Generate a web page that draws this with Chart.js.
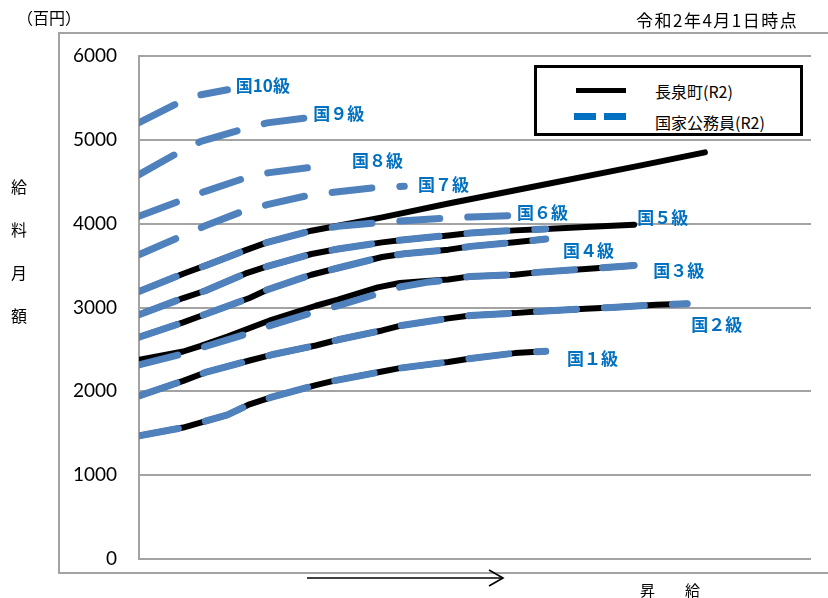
<!DOCTYPE html>
<html lang="ja">
<head>
<meta charset="utf-8">
<title>給料月額 比較</title>
<script src="https://cdn.jsdelivr.net/npm/chart.js@4.4.1/dist/chart.umd.min.js"></script>
<style>
  html, body { margin: 0; padding: 0; background: #fff; overflow: hidden; }
  #wrap { position: relative; width: 828px; height: 598px; overflow: hidden;
          font-family: "Noto Sans CJK JP", "Noto Sans", sans-serif; color: #000; }
  #frame { position: absolute; left: 58px; top: 32px; width: 820px; height: 542px;
           box-sizing: border-box; border: 2px solid #a3a3a3; }
  #chart { position: absolute; left: 0; top: 0; }
  .txt { position: absolute; white-space: nowrap; line-height: 1; }
  #unit { left: 17px; top: 9px; font-size: 16px; }
  #asof { left: 636px; top: 11px; font-size: 17px; letter-spacing: 1.5px; }
  #ytitle { left: 10px; top: 165px; font-size: 16px; line-height: 43px; white-space: normal; width: 18px; text-align: center; }
  #xtitle { left: 640px; top: 582px; font-size: 15px; }
  #arrow { position: absolute; left: 305px; top: 569px; }
  #legend { position: absolute; left: 534px; top: 65px; width: 269px; height: 71px;
            box-sizing: border-box; border: 3px solid #000; background: #fff; }
  .swatch { position: absolute; }
  .ltxt { position: absolute; font-size: 16px; line-height: 1; white-space: nowrap; }
</style>
</head>
<body>
<div id="wrap">
  <div id="frame"></div>
  <canvas id="chart" width="828" height="598"></canvas>
  <div class="txt" id="unit">（百円）</div>
  <div class="txt" id="asof">令和2年4月1日時点</div>
  <div class="txt" id="ytitle">給<br>料<br>月<br>額</div>
  <svg id="arrow" width="204" height="20" viewBox="0 0 204 20">
    <line x1="2" y1="9" x2="198" y2="9" stroke="#000" stroke-width="1.6"/>
    <polyline points="184,1 198,9 184,17" fill="none" stroke="#000" stroke-width="1.6"/>
  </svg>
  <div class="txt" id="xtitle">昇　　給</div>
  <div id="legend">
    <div class="swatch" style="left:39px;top:20px;width:50px;height:5px;background:#000"></div>
    <div class="ltxt" style="left:118px;top:15px">長泉町(R2)</div>
    <div class="swatch" style="left:37px;top:45px;width:22px;height:7px;background:#0070C0"></div>
    <div class="swatch" style="left:67px;top:45px;width:22px;height:7px;background:#0070C0"></div>
    <div class="ltxt" style="left:118px;top:46px">国家公務員(R2)</div>
  </div>
</div>
<script>
// 号給 (step) positions and monthly pay (hundreds of yen) per grade.
// National civil servants (国家公務員, R2)
const natSteps1 = [1, 11, 21, 26, 31, 41, 45, 56, 60, 71, 76, 86, 93];
const natPay1   = [1469, 1568, 1719, 1845, 1930, 2075, 2125, 2236, 2277, 2350, 2392, 2456, 2478];
const natSteps2 = [1, 11, 16, 26, 31, 41, 46, 56, 60, 71, 76, 86, 91, 102, 108, 118, 125];
const natPay2   = [1946, 2125, 2225, 2368, 2436, 2547, 2615, 2726, 2782, 2870, 2905, 2933, 2953, 2985, 3001, 3033, 3045];
const natSteps3 = [1, 11, 16, 26, 30, 41, 46, 56, 60, 66, 71, 76, 86, 91, 102, 113];
const natPay3   = [2316, 2448, 2535, 2695, 2774, 2953, 3021, 3180, 3244, 3300, 3330, 3371, 3391, 3419, 3459, 3502];
const natSteps4 = [1, 11, 16, 26, 30, 40, 46, 56, 61, 71, 76, 86, 93];
const natPay4   = [2647, 2822, 2920, 3113, 3212, 3391, 3471, 3602, 3642, 3690, 3729, 3777, 3817];
const natSteps5 = [1, 11, 16, 25, 30, 40, 46, 56, 61, 71, 76, 86, 93];
const natPay5   = [2913, 3113, 3200, 3403, 3491, 3638, 3698, 3777, 3809, 3860, 3889, 3920, 3937];
const natSteps6 = [1, 11, 16, 25, 30, 40, 46, 56, 61, 71, 76, 85];
const natPay6   = [3192, 3403, 3499, 3681, 3777, 3916, 3968, 4016, 4036, 4068, 4080, 4096];
const natSteps7 = [1, 11, 16, 25, 30, 40, 45, 55, 61];
const natPay7   = [3630, 3860, 3975, 4159, 4227, 4346, 4374, 4434, 4446];
const natSteps8 = [1, 11, 16, 25, 30, 40, 45];
const natPay8   = [4088, 4287, 4386, 4545, 4605, 4672, 4690];
const natSteps9 = [1, 10, 15, 25, 30, 40, 41];
const natPay9   = [4585, 4851, 4982, 5134, 5202, 5269, 5275];
const natSteps10 = [1, 10, 15, 21];
const natPay10   = [5206, 5445, 5537, 5597];

// Nagaizumi town (長泉町, R2)
const townSteps1 = [1, 11, 21, 26, 31, 41, 45, 56, 60, 71, 76, 86, 93];
const townPay1   = [1469, 1568, 1719, 1845, 1930, 2075, 2125, 2236, 2277, 2350, 2392, 2456, 2478];
const townSteps2 = [1, 11, 16, 26, 31, 41, 46, 56, 60, 71, 76, 86, 91, 102, 108, 118, 125];
const townPay2   = [1946, 2125, 2225, 2368, 2436, 2547, 2615, 2726, 2782, 2870, 2905, 2933, 2953, 2985, 3001, 3033, 3045];
const townSteps3 = [1, 11, 15, 21, 31, 41, 46, 55, 60, 66, 71, 76, 86, 91, 102, 113];
const townPay3   = [2376, 2475, 2543, 2654, 2854, 3021, 3093, 3240, 3292, 3315, 3335, 3371, 3391, 3419, 3459, 3502];
const townSteps4 = [1, 11, 16, 26, 30, 40, 46, 56, 61, 71, 76, 86, 93];
const townPay4   = [2647, 2822, 2920, 3113, 3212, 3391, 3471, 3602, 3642, 3690, 3729, 3777, 3817];
const townSteps5 = [1, 11, 16, 25, 30, 40, 46, 56, 61, 71, 76, 86, 93, 102, 113];
const townPay5   = [2913, 3113, 3200, 3403, 3491, 3638, 3698, 3777, 3809, 3860, 3889, 3920, 3937, 3961, 3988];
const townSteps6 = [1, 11, 16, 25, 30, 40, 46, 56, 71, 91, 114, 129];
const townPay6   = [3192, 3403, 3499, 3681, 3777, 3916, 3976, 4075, 4240, 4450, 4690, 4851];

// Y axis ticks
const payTicks = [0, 1000, 2000, 3000, 4000, 5000, 6000];

// Grade captions for the national lines, anchored in (step, pay) space
const gradeNames  = ['国10級', '国９級', '国８級', '国７級', '国６級', '国５級', '国４級', '国３級', '国２級', '国１級'];
const gradeAtStep = [22.9, 40.4, 49.2, 64.1, 86.5, 113.7, 96.9, 117.3, 125.9, 97.8];
const gradeAtPay  = [5648, 5313, 4752, 4466, 4131, 4072, 3678, 3439, 2794, 2388];

const NAT_BLUE = '#4F81BD';
const LABEL_BLUE = '#0070C0';

function points(steps, pays) {
  return steps.map((s, i) => ({ x: s, y: pays[i] }));
}

const natSeries = [
  [natSteps1, natPay1], [natSteps2, natPay2], [natSteps3, natPay3], [natSteps4, natPay4],
  [natSteps5, natPay5], [natSteps6, natPay6], [natSteps7, natPay7], [natSteps8, natPay8],
  [natSteps9, natPay9], [natSteps10, natPay10]
];
const townSeries = [
  [townSteps1, townPay1], [townSteps2, townPay2], [townSteps3, townPay3],
  [townSteps4, townPay4], [townSteps5, townPay5], [townSteps6, townPay6]
];

const datasets = [];
natSeries.forEach(([s, p], i) => datasets.push({
  label: '国家公務員(R2) ' + (i + 1) + '級',
  data: points(s, p),
  borderColor: NAT_BLUE,
  borderWidth: 7,
  borderDash: [40, 28],
  borderCapStyle: 'round',
  borderJoinStyle: 'round',
  pointRadius: 0,
  tension: 0,
  order: 1
}));
townSeries.forEach(([s, p], i) => datasets.push({
  label: '長泉町(R2) ' + (i + 1) + '級',
  data: points(s, p),
  borderColor: '#000000',
  borderWidth: 6,
  borderCapStyle: 'round',
  borderJoinStyle: 'round',
  pointRadius: 0,
  tension: 0,
  order: 2
}));

const gradeLabels = {
  id: 'gradeLabels',
  afterDatasetsDraw(chart) {
    const { ctx, scales: { x, y } } = chart;
    ctx.save();
    ctx.font = 'bold 17px "Noto Sans CJK JP", sans-serif';
    ctx.fillStyle = LABEL_BLUE;
    ctx.textAlign = 'left';
    ctx.textBaseline = 'middle';
    gradeNames.forEach((name, i) => {
      ctx.fillText(name, x.getPixelForValue(gradeAtStep[i]), y.getPixelForValue(gradeAtPay[i]));
    });
    ctx.restore();
  }
};

new Chart(document.getElementById('chart'), {
  type: 'line',
  data: { datasets },
  options: {
    responsive: false,
    devicePixelRatio: 1,
    animation: false,
    layout: { padding: { left: 0, top: 56, right: 17, bottom: 39 } },
    plugins: { legend: { display: false }, tooltip: { enabled: false } },
    scales: {
      x: {
        type: 'linear',
        min: 1,
        max: 153,
        display: false
      },
      y: {
        type: 'linear',
        min: payTicks[0],
        max: payTicks[payTicks.length - 1],
        afterFit(scale) { scale.width = 139; },
        afterBuildTicks(scale) { scale.ticks = payTicks.map(v => ({ value: v })); },
        ticks: {
          padding: 22,
          color: '#000',
          font: { family: 'Lato, "Liberation Sans", sans-serif', size: 19 },
          callback: (v) => String(v)
        },
        grid: { color: '#a3a3a3', lineWidth: 2, drawTicks: false },
        border: { display: true, color: '#a3a3a3', width: 2 }
      }
    }
  },
  plugins: [gradeLabels]
});
</script>
</body>
</html>
